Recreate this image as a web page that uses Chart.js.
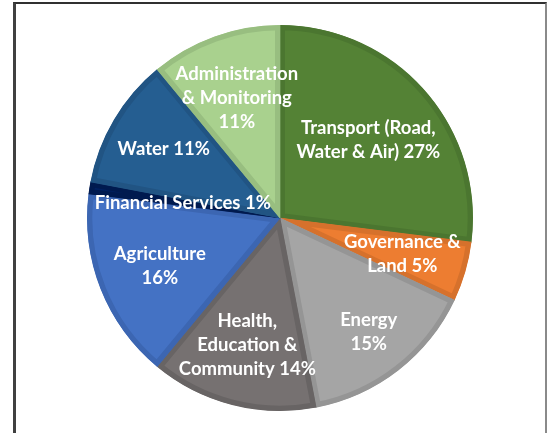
<!DOCTYPE html>
<html>
<head>
<meta charset="utf-8">
<script src="https://cdn.jsdelivr.net/npm/chart.js@4.4.1/dist/chart.umd.min.js"></script>
<style>
  body { margin: 0; background: #fff; }
  #wrap { position: relative; width: 547px; height: 433px; overflow: hidden; }
  #frame {
    position: absolute; left: 13px; top: 2px; width: 529px; height: 440px;
    border-left: 3px solid #404040; border-top: 2px solid #303030; border-right: 2px solid #8a8a8a;
  }
  canvas { position: absolute; left: 0; top: 0; }
</style>
</head>
<body>
<div id="wrap">
  <div id="frame"></div>
  <canvas id="pie-canvas" width="547" height="433"></canvas>
</div>
<script>
// data
const sectors = [
  ["Transport (Road,", "Water & Air) 27%"],
  ["Governance &", "Land 5%"],
  ["Energy", "15%"],
  ["Health,", "Education &", "Community 14%"],
  ["Agriculture", "16%"],
  ["Financial Services 1%"],
  ["Water 11%"],
  ["Administration", "& Monitoring", "11%"],
];
const shares = [27, 5, 15, 14, 16, 1, 11, 11];

// styles
const fills = ["#548235", "#ED7D31", "#A5A5A5", "#767171", "#4472C4", "#002060", "#255E91", "#A9D18E"];
const edges = ["#4B7630", "#D6712C", "#959595", "#686464", "#3C66B2", "#001A4F", "#215483", "#98BE80"];
// how far out each label sits, as a fraction of the radius
const labelRadius = [0.61, 0.66, 0.75, 0.68, 0.67, 0.51, 0.70, 0.66];

const sliceLabels = {
  id: "sliceLabels",
  afterDatasetsDraw(chart) {
    const ctx = chart.ctx;
    const meta = chart.getDatasetMeta(0);
    ctx.save();
    ctx.fillStyle = "#fff";
    ctx.font = "bold 18.5px Lato";
    ctx.textAlign = "center";
    ctx.textBaseline = "middle";
    meta.data.forEach((arc, i) => {
      const mid = (arc.startAngle + arc.endAngle) / 2;
      const r = arc.outerRadius * labelRadius[i];
      const x = arc.x + Math.cos(mid) * r;
      const y = arc.y + Math.sin(mid) * r;
      const lines = sectors[i];
      const lh = 24;
      lines.forEach((line, j) => {
        ctx.fillText(line, x, y + (j - (lines.length - 1) / 2) * lh);
      });
    });
    ctx.restore();
  },
};

new Chart(document.getElementById("pie-canvas"), {
  type: "pie",
  data: {
    labels: sectors.map((s) => s.join(" ")),
    datasets: [
      {
        data: shares,
        backgroundColor: fills,
        borderColor: edges,
        borderWidth: 5,
        borderAlign: "inner",
      },
    ],
  },
  options: {
    responsive: false,
    animation: false,
    layout: {
      padding: { left: 87, right: 74, top: 25, bottom: 22 },
    },
    plugins: {
      legend: { display: false },
      tooltip: { enabled: false },
    },
  },
  plugins: [sliceLabels],
});
</script>
</body>
</html>
